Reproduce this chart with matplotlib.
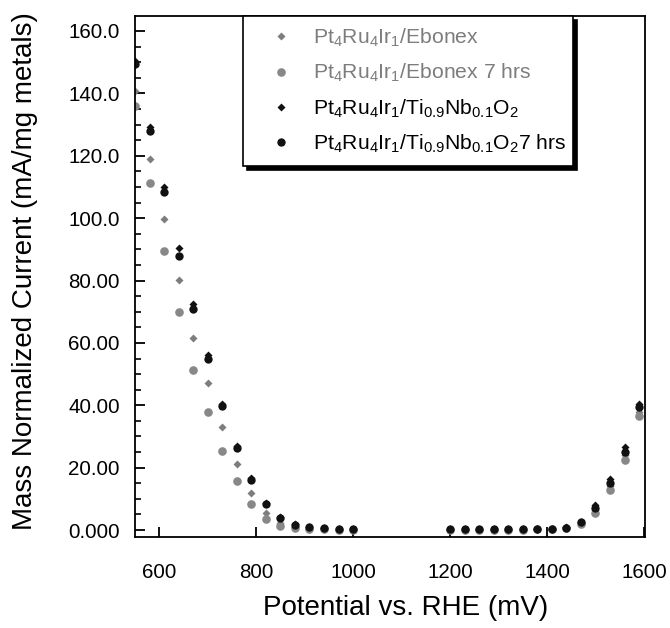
import matplotlib.pyplot as plt
from matplotlib.ticker import MultipleLocator

plt.rcParams['font.family'] = ['Liberation Sans', 'DejaVu Sans']
plt.rcParams['mathtext.default'] = 'regular'

# potential (mV vs RHE)
potential = [550, 580, 610, 640, 670, 700, 730, 760, 790, 820, 850, 880, 910, 940, 970, 1000,
             1200, 1230, 1260, 1290, 1320, 1350, 1380, 1410, 1440, 1470, 1500, 1530, 1560, 1590]

# mass normalized current (mA/mg metals)
ebonex = [140.8, 119.1, 99.7, 80.1, 61.7, 47.0, 33.1, 21.3, 11.9, 5.6, 2.4, 1.0, 0.5, 0.3, 0.2, 0.1,
          0.1, 0.1, 0.1, 0.1, 0.1, 0.2, 0.2, 0.4, 0.8, 2.2, 6.4, 14.1, 24.0, 37.9]
ebonex_7h = [135.9, 111.4, 89.5, 69.9, 51.4, 37.7, 25.4, 15.8, 8.2, 3.5, 1.3, 0.6, 0.3, 0.2, 0.1, 0.1,
             0.1, 0.1, 0.1, 0.1, 0.1, 0.1, 0.2, 0.3, 0.7, 2.0, 5.6, 12.7, 22.4, 36.5]
tinb = [150.5, 129.3, 110.0, 90.3, 72.4, 56.0, 40.4, 26.9, 16.6, 8.6, 4.1, 1.8, 0.9, 0.6, 0.4, 0.3,
        0.3, 0.3, 0.3, 0.3, 0.3, 0.3, 0.3, 0.4, 0.9, 2.7, 8.1, 16.5, 26.7, 40.4]
tinb_7h = [149.5, 128.0, 108.4, 87.8, 71.0, 54.7, 39.7, 26.3, 16.1, 8.2, 3.8, 1.6, 0.9, 0.6, 0.4, 0.3,
           0.2, 0.2, 0.2, 0.2, 0.2, 0.2, 0.2, 0.3, 0.8, 2.5, 7.0, 15.0, 25.1, 39.5]

labels = [r'Pt$_4$Ru$_4$Ir$_1$/Ebonex',
          r'Pt$_4$Ru$_4$Ir$_1$/Ebonex 7 hrs',
          r'Pt$_4$Ru$_4$Ir$_1$/Ti$_{0.9}$Nb$_{0.1}$O$_2$',
          r'Pt$_4$Ru$_4$Ir$_1$/Ti$_{0.9}$Nb$_{0.1}$O$_2$7 hrs']

yticks = [0, 20, 40, 60, 80, 100, 120, 140, 160]
yticklabels = ['0.000', '20.00', '40.00', '60.00', '80.00', '100.0', '120.0', '140.0', '160.0']
xticks = [600, 800, 1000, 1200, 1400, 1600]

grey = '#7d7d7d'
fig = plt.figure(figsize=(6.7, 6.28), dpi=100)
ax = fig.add_axes([0.2015, 0.145, 0.761, 0.8295])

ax.plot(potential, ebonex, 'D', color=grey, ms=3.6, mec='none', label=labels[0])
ax.plot(potential, ebonex_7h, 'o', color='#888888', ms=6.2, mec='none', label=labels[1])
ax.plot(potential, tinb, 'D', color='#111111', ms=3.8, mec='none', label=labels[2])
ax.plot(potential, tinb_7h, 'o', color='#111111', ms=6.0, mec='none', label=labels[3])

ax.set_xlim(550, 1602)
ax.set_ylim(-2.2, 164.8)
ax.set_xticks(xticks)
ax.set_yticks(yticks)
ax.set_yticklabels(yticklabels)
ax.yaxis.set_minor_locator(MultipleLocator(5))

for s in ax.spines.values():
    s.set_linewidth(1.3)
ax.tick_params(axis='y', which='major', direction='in', length=7.5, width=1.3, labelsize=14.8, pad=11)
ax.tick_params(axis='y', which='minor', direction='in', length=4.5, width=1.2)
ax.tick_params(axis='x', which='major', direction='in', length=7.5, width=1.3, labelsize=14.8, pad=19)

ax.set_xlabel('Potential vs. RHE (mV)', fontsize=20, labelpad=9)
ax.xaxis.label.set_x(0.53)
ax.set_ylabel('Mass Normalized Current (mA/mg metals)', fontsize=20)
ax.yaxis.set_label_coords(-0.19, 0.51)

leg = ax.legend(loc='upper left', bbox_to_anchor=(0.212, 1.0, 0.647, 0.0), mode='expand',
                fontsize=15.2, frameon=True, fancybox=False, edgecolor='black', framealpha=1,
                borderaxespad=0, handlelength=2.6, handletextpad=0.2, borderpad=0.5,
                labelspacing=0.62,
                shadow={'ox': 3, 'oy': -3, 'color': 'black', 'alpha': 1})
leg.get_frame().set_linewidth(1.2)
for txt, col in zip(leg.get_texts(), [grey, grey, 'black', 'black']):
    txt.set_color(col)

fig.savefig('out.png', dpi=100)
